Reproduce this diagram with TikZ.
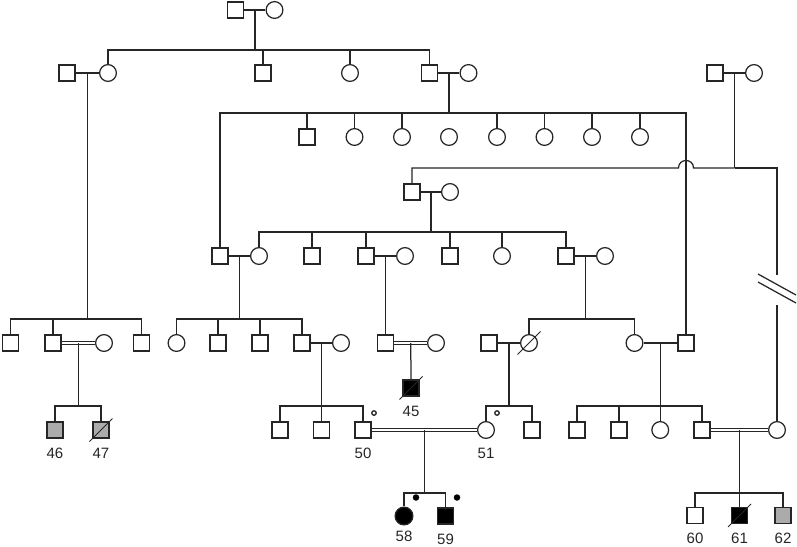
\documentclass[tikz,border=0pt]{standalone}
\usepackage{fontspec}
\setmainfont{Liberation Sans}
\usetikzlibrary{calc}
\definecolor{Ink}{HTML}{262626}
\definecolor{Partial}{HTML}{ABABAB}

\begin{document}
\begin{tikzpicture}[x=1pt, y=-1pt, line width=1.25pt, color=Ink, label distance=8.5pt,
    every label/.style={inner sep=0pt}, every node/.style={font=\fontsize{15}{17}\selectfont}]
  \tikzstyle{male}=[draw, fill=white, rectangle, minimum size=16.2pt, inner sep=0pt]
  \tikzstyle{female}=[draw, fill=white, circle, minimum size=16.8pt, inner sep=0pt]
  \tikzstyle{affected}=[fill=black]
  \tikzstyle{partial}=[fill=Partial]
  \tikzstyle{consang}=[double=white, double distance=2.2pt, line width=1pt]
  \tikzstyle{carrier}=[draw, circle, minimum size=4.5pt, inner sep=0pt, line width=1.3pt]
  \tikzstyle{dot}=[fill=black, circle, minimum size=6.5pt, inner sep=0pt]
  \tikzstyle{dead}=[line width=1pt]
  \tikzstyle{low}=[label distance=6pt]

  \useasboundingbox (0,0) rectangle (797,546);

  % generation I
  \node[male] (a1) at (235.5,10) {};
  \node[female] (a2) at (274.5,10) {};

  % generation II
  \node[male] (b1) at (67,73) {};
  \node[female] (b2) at (108,73) {};
  \node[male] (b3) at (263,73) {};
  \node[female] (b4) at (350,73) {};
  \node[male] (b5) at (429.5,73) {};
  \node[female] (b6) at (468.5,73) {};
  \node[male] (b7) at (715,73) {};
  \node[female] (b8) at (754,73) {};

  % generation III
  \node[male] (c1) at (307,137) {};
  \foreach \i/\x in {2/354.5,3/402,4/449,5/497,6/544.5,7/592,8/640}
    \node[female] (c\i) at (\x,137) {};
  \node[male] (d1) at (412,192) {};
  \node[female] (d2) at (450,192) {};

  \node[male] (e1) at (220,256) {};
  \node[female] (e2) at (259,256) {};
  \node[male] (e3) at (312,256) {};
  \node[male] (e4) at (366,256) {};
  \node[female] (e5) at (405,256) {};
  \node[male] (e6) at (450,256) {};
  \node[female] (e7) at (502,256) {};
  \node[male] (e8) at (566,256) {};
  \node[female] (e9) at (605,256) {};

  % generation IV
  \node[male] (f1) at (10.5,343) {};
  \node[male] (f2) at (53,343) {};
  \node[female] (f3) at (104,343) {};
  \node[male] (f4) at (141.5,343) {};
  \node[female] (f5) at (176.5,343) {};
  \node[male] (f6) at (218,343) {};
  \node[male] (f7) at (260,343) {};
  \node[male] (f8) at (302,343) {};
  \node[female] (f9) at (341,343) {};
  \node[male] (f10) at (385.5,343) {};
  \node[female] (f11) at (436,343) {};
  \node[male] (f12) at (489,343) {};
  \node[female] (f13) at (529,343) {};
  \node[female] (f14) at (634.5,343) {};
  \node[male] (f15) at (686,343) {};

  \node[male, affected, label=below:45] (g1) at (411,388) {};

  % generation V
  \node[male, partial, label=below:46] (h1) at (55,430) {};
  \node[male, partial, label=below:47] (h2) at (101,430) {};
  \node[male] (h3) at (280,430) {};
  \node[male] (h4) at (321.5,430) {};
  \node[male, label=below:50] (h5) at (363,430) {};
  \node[female, label=below:51] (h6) at (486,430) {};
  \node[male] (h7) at (532,430) {};
  \node[male] (h8) at (577,430) {};
  \node[male] (h9) at (619,430) {};
  \node[female] (h10) at (660.25,430) {};
  \node[male] (h11) at (702,430) {};
  \node[female] (h12) at (777,430) {};

  % generation VI
  \node[female, affected, minimum size=17.8pt, low, label={[label distance=5pt]below:58}] (k1) at (404,516) {};
  \node[male, affected, low, label=below:59] (k2) at (445.5,516) {};
  \node[male, low, label=below:60] (k3) at (695,515.5) {};
  \node[male, affected, low, label=below:61] (k4) at (739.5,515.5) {};
  \node[male, partial, low, label=below:62] (k5) at (783,515.5) {};

  % carrier marks
  \node[carrier] (h5c) at ($(h5)+(11,-17)$) {};
  \node[carrier] (h6c) at ($(h6)+(11,-17)$) {};
  \node[dot] (k1d) at ($(k1)+(12,-18.5)$) {};
  \node[dot] (k2d) at ($(k2)+(11.5,-18.5)$) {};

  % marriages
  \foreach \m/\f in {a1/a2,b1/b2,b5/b6,b7/b8,d1/d2,e1/e2,e4/e5,e8/e9,f8/f9,f12/f13,f14/f15}
    \draw (\m) -- (\f);
  \foreach \m/\f in {f2/f3,f10/f11,h5/h6,h11/h12}
    \draw[consang] (\m) -- (\f);

  % I -> II
  \coordinate (ma) at ($(a1)!0.5!(a2)$);
  \coordinate (sa) at ($(ma)+(0,40)$);
  \draw (ma) -- (sa);
  \draw (b2.north) |- (sa) -| (b5.north);
  \foreach \n in {b3,b4} \draw (\n.north) -- (\n.north |- sa);

  % II -> III
  \coordinate (mb) at ($(b5)!0.5!(b6)$);
  \coordinate (sb) at ($(mb)+(0,40)$);
  \draw (mb) -- (sb);
  \draw (e1.north) |- (sb) -| (f15.north);
  \foreach \n in {c1,c2,c3,c5,c6,c7,c8} \draw (\n.north) -- (\n.north |- sb);

  \coordinate (md) at ($(b7)!0.5!(b8)$);
  \coordinate (sd) at ($(md)+(0,95)$);
  \coordinate (hop) at (f15 |- sd);
  \coordinate (brkA) at ($(h12 |- sd)+(0,107)$);
  \coordinate (brkB) at ($(brkA)+(0,30)$);
  \draw (md) -- (sd);
  \draw (sd) -- ($(hop)+(7.5,0)$) .. controls ($(hop)+(7.5,-10)$) and ($(hop)+(-7.5,-10)$) .. ($(hop)+(-7.5,0)$) -| (d1.north);
  \draw (sd) -| (brkA);
  \draw (brkB) -- (h12.north);
  \draw ($(brkA)+(-19,-1)$) -- ($(brkA)+(19,20)$);
  \draw ($(brkA)+(-19,7)$) -- ($(brkA)+(19,28)$);

  \coordinate (me) at ($(d1)!0.5!(d2)$);
  \coordinate (se) at ($(me)+(0,40)$);
  \draw (me) -- (se);
  \draw (e2.north) |- (se) -| (e8.north);
  \foreach \n in {e3,e4,e6,e7} \draw (\n.north) -- (\n.north |- se);

  % III -> IV
  \coordinate (mf1) at ($(b1)!0.5!(b2)$);
  \coordinate (sf1) at ($(mf1)+(0,246)$);
  \draw (mf1) -- (sf1);
  \draw (f1.north) |- (sf1) -| (f4.north);
  \draw (f2.north) -- (f2.north |- sf1);

  \coordinate (mf2) at ($(e1)!0.5!(e2)$);
  \coordinate (sf2) at ($(mf2)+(0,63)$);
  \draw (mf2) -- (sf2);
  \draw (f5.north) |- (sf2) -| (f8.north);
  \foreach \n in {f6,f7} \draw (\n.north) -- (\n.north |- sf2);

  \coordinate (mf3) at ($(e4)!0.5!(e5)$);
  \draw (mf3) -- (f10.north);

  \coordinate (mf4) at ($(e8)!0.5!(e9)$);
  \coordinate (sf4) at ($(mf4)+(0,63)$);
  \draw (mf4) -- (sf4);
  \draw (f13.north) |- (sf4) -| (f14.north);

  % IV -> V
  \coordinate (mg) at ($(f10)!0.5!(f11)$);
  \draw (mg) -- (g1.north);

  \coordinate (mh1) at ($(f2)!0.5!(f3)$);
  \coordinate (sh1) at ($(mh1)+(0,63)$);
  \draw (mh1) -- (sh1);
  \draw (h1.north) |- (sh1) -| (h2.north);

  \coordinate (mh2) at ($(f8)!0.5!(f9)$);
  \coordinate (sh2) at ($(mh2)+(0,63)$);
  \draw (mh2) -- (sh2);
  \draw (h3.north) |- (sh2) -| (h5.north);
  \draw (h4.north) -- (h4.north |- sh2);

  \coordinate (mh3) at ($(f12)!0.5!(f13)$);
  \coordinate (sh3) at ($(mh3)+(0,63)$);
  \draw (mh3) -- (sh3);
  \draw (h6.north) |- (sh3) -| (h7.north);

  \coordinate (mh4) at ($(f14)!0.5!(f15)$);
  \coordinate (sh4) at ($(mh4)+(0,63)$);
  \draw (mh4) -- (sh4);
  \draw (h8.north) |- (sh4) -| (h11.north);
  \foreach \n in {h9,h10} \draw (\n.north) -- (\n.north |- sh4);

  % V -> VI
  \coordinate (mk1) at ($(h5)!0.5!(h6)$);
  \coordinate (sk1) at ($(mk1)+(0,63)$);
  \draw (mk1) -- (sk1);
  \draw (k1.north) |- (sk1) -| (k2.north);

  \coordinate (mk2) at ($(h11)!0.5!(h12)$);
  \coordinate (sk2) at ($(mk2)+(0,63)$);
  \draw (mk2) -- (sk2);
  \draw (k3.north) |- (sk2) -| (k5.north);
  \draw (k4.north) -- (k4.north |- sk2);

  % deceased
  \foreach \n in {h2,g1,f13,k4}
    \draw[dead] ($(\n)+(-11.5,11.5)$) -- ($(\n)+(11.5,-11.5)$);
\end{tikzpicture}
\end{document}
